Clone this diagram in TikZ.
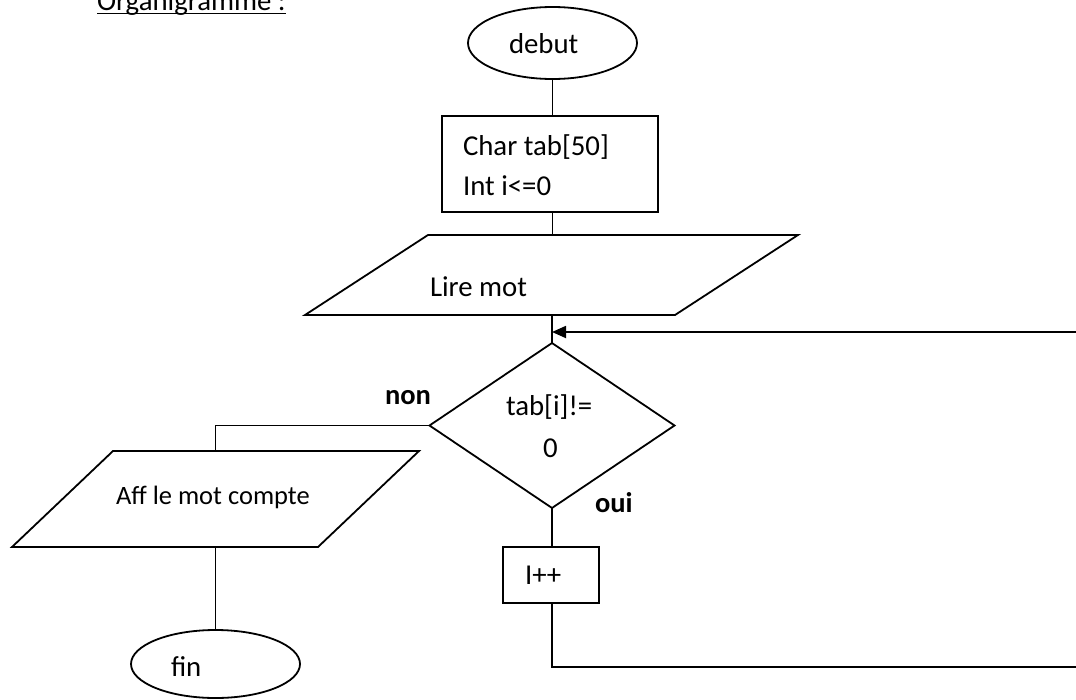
\documentclass[tikz,border=0pt]{standalone}
\usepackage{fontspec}
\setmainfont{Carlito}
\usetikzlibrary{shapes.geometric,arrows.meta}
\begin{document}
\begin{tikzpicture}[x=1pt,y=-1pt,
  line width=1.8pt,
  every node/.style={inner sep=0pt, outer sep=0pt},
  txt/.style={font=\fontsize{28.8}{34}\selectfont, anchor=base west},
  smalltxt/.style={font=\fontsize{26.5}{32}\selectfont, anchor=base west},
  lbl/.style={font=\fontsize{28.5}{34}\selectfont\bfseries, anchor=base west},
  term/.style={draw, ellipse, minimum width=169pt},
  proc/.style={draw, rectangle},
  iobox/.style={rectangle},
  test/.style={draw, diamond},
  flow/.style={draw},
  loop/.style={draw, -{Triangle[length=14pt,width=12pt]}}]

% page frame
\fill[white] (0,0) rectangle (1076,699);
\useasboundingbox (0,0) rectangle (1076,699);

% title
\node[txt] (title) at (97,10) {Organigramme :};
\draw[line width=1.8pt] ([yshift=-3.5pt]title.base west) -- ([yshift=-3.5pt]title.base east);

% shapes
\node[term, minimum height=72pt] (debut) at (552.5,43) {};
\node[proc, minimum width=216pt, minimum height=96pt] (init) at (550,164) {};
\node[iobox, minimum width=493pt, minimum height=80pt] (lire) at (551.5,275) {};
\draw (lire.south west) -- ([xshift=123pt]lire.north west) -- (lire.north east)
      -- ([xshift=-123pt]lire.south east) -- cycle;
\node[test, minimum width=245pt, minimum height=165pt] (dia) at (552,425.5) {};
\node[iobox, minimum width=407pt, minimum height=96pt] (aff) at (215.5,499) {};
\draw (aff.south west) -- ([xshift=101pt]aff.north west) -- (aff.north east)
      -- ([xshift=-101pt]aff.south east) -- cycle;
\node[term, minimum height=68pt] (fin) at (215.5,664) {};
\node[proc, minimum width=96pt, minimum height=56pt] (inc) at (551,575) {};

% texts
\node[txt] (tdebut) at (509,53) {debut};
\node[txt] (tinit1) at (463,155) {Char tab[50]};
\node[txt] (tinit2) at (463,195) {Int i<=0};
\node[txt] (tlire) at (430,296) {Lire mot};
\node[txt] (tdia1) at (506,415) {tab[i]!=};
\node[txt] (tdia2) at (543,457) {0};
\node[smalltxt] (taff) at (116,504) {Aff le mot compte};
\node[txt] (tfin) at (171,676) {fin};
\node[txt] (tinc) at (525,584) {I++};
\node[lbl] (lnon) at (385,404) {non};
\node[lbl] (loui) at (595,512) {oui};

% connectors
\coordinate (join) at (552,332);
\coordinate (loopR) at (1081,667);
\draw[flow] (debut.south) -- (debut.south |- init.north);
\draw[flow] (init.south -| debut.south) -- (lire.north -| debut.south);
\draw[flow] (lire.south -| dia.north) -- (dia.north);
\draw[flow] (dia.west) -| (aff.north -| fin.north);
\draw[flow] (aff.south -| fin.north) -- (fin.north);
\draw[flow] (dia.south) -- (dia.south |- inc.north);
\draw[loop] (dia.south |- inc.south) |- (loopR) |- (join);
\end{tikzpicture}
\end{document}
